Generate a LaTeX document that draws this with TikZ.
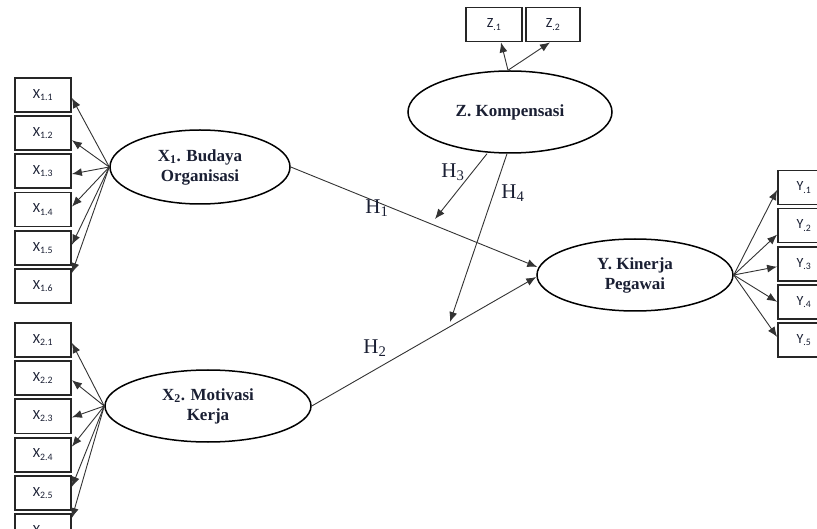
\documentclass[tikz,border=0pt]{standalone}
\usepackage{fontspec}
\setmainfont{Liberation Serif}
\newfontfamily\boxfont{Carlito}
\usetikzlibrary{arrows.meta,shapes.geometric,calc}
\definecolor{ink}{HTML}{1A1F33}
\begin{document}
\begin{tikzpicture}[x=1pt,y=-1pt,
  ind/.style={draw=black!85, line width=1.8pt, minimum width=56pt, minimum height=34pt, inner sep=0pt, font=\boxfont\fontsize{14}{16}\selectfont, text=ink},
  lat/.style={ellipse, draw=black, line width=1.5pt, inner sep=0pt, align=center, font=\bfseries\fontsize{17}{20}\selectfont, text=ink},
  ld/.style={draw=black!80, line width=0.9pt, -{Latex[length=10pt,width=8pt]}},
  hl/.style={font=\fontsize{21}{21}\selectfont, text=ink}]
\useasboundingbox (0,0) rectangle (817,529);
\clip (0,0) rectangle (817,529);

% latent variables
\node[lat, minimum width=180pt, minimum height=74pt] (x1) at (200,167) {X\textsubscript{1}. Budaya\\Organisasi};
\node[lat, minimum width=206pt, minimum height=72pt] (x2) at (208,406) {X\textsubscript{2}. Motivasi\\Kerja};
\node[lat, minimum width=204pt, minimum height=82pt] (z) at (510,112) {Z. Kompensasi};
\node[lat, minimum width=196pt, minimum height=72pt] (y) at (635,275) {Y. Kinerja\\Pegawai};

% X1 indicators
\foreach \i/\d [evaluate=\i as \yy using 95+38.2*(\i-1)] in {1/3,2/7,3/2.6,4/-3,5/-3,6/-13}{
  \node[ind] (a\i) at (43,\yy) {X\textsubscript{1.\i}};
  \draw[ld] (x1.west) -- ($(a\i.east)+(0,\d)$);
}
% X2 indicators
\foreach \i/\d [evaluate=\i as \yy using 340+38.2*(\i-1)] in {1/3,2/2,3/1,4/-8,5/-6,6/-13}{
  \node[ind] (b\i) at (43,\yy) {X\textsubscript{2.\i}};
  \draw[ld] (x2.west) -- ($(b\i.east)+(0,\d)$);
}
% Y indicators
\foreach \i/\d [evaluate=\i as \yy using 187.5+38.1*(\i-1)] in {1/2.5,2/9,3/3,4/0,5/-3}{
  \node[ind, minimum width=52pt] (c\i) at (804,\yy) {Y\textsubscript{.\i}};
  \draw[ld] (y.east) -- ($(c\i.west)+(0,\d)$);
}
% Z indicators
\node[ind] (z1) at (494,24.5) {Z\textsubscript{.1}};
\node[ind, minimum width=54pt] (z2) at (553,24.5) {Z\textsubscript{.2}};
\draw[ld] ($(z.north)+(-2,0)$) -- ($(z1.south)+(7,0)$);
\draw[ld] ($(z.north)+(-2,0)$) -- ($(z2.south)+(-3,0)$);

% structural paths
\draw[ld] (x1.east) -- ($(y.west)+(1,-8)$);
\draw[ld] (x2.east) -- ($(y.west)+(0,2)$);
\coordinate (m1) at (435,219);
\coordinate (m2) at (450,322);
\draw[ld] ($(z.south)+(-23,0)$) -- (m1);
\draw[ld] ($(z.south)+(-3,0)$) -- (m2);

% labels
\node[hl] (h1) at (377,208) {H\textsubscript{1}};
\node[hl] (h2) at (375,348) {H\textsubscript{2}};
\node[hl] (h3) at (453,172) {H\textsubscript{3}};
\node[hl] (h4) at (513,193) {H\textsubscript{4}};
\end{tikzpicture}
\end{document}
